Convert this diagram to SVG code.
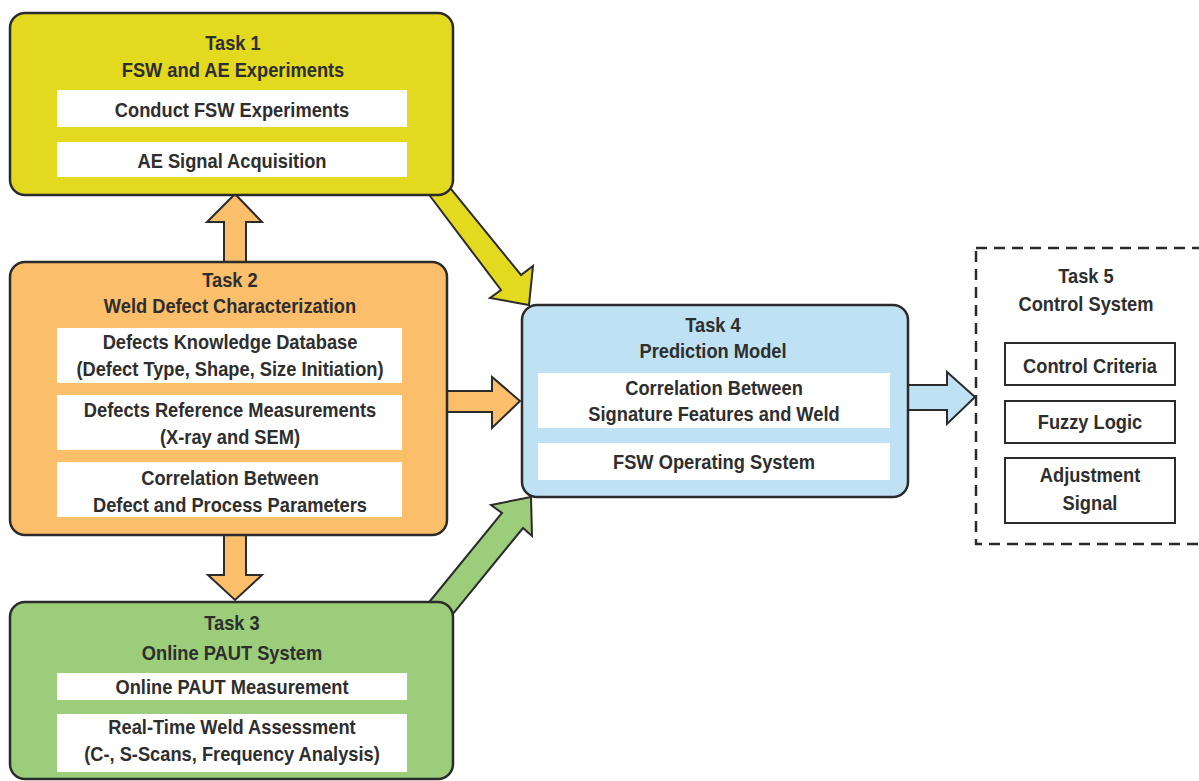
<svg xmlns="http://www.w3.org/2000/svg" width="1199" height="781" viewBox="0 0 1199 781">
<style>
.box{stroke:#2b2b2b;stroke-width:2.5}
.t1{fill:#e3d91f}
.t2{fill:#fbbf6c}
.t3{fill:#9ccd7b}
.t4{fill:#bee2f4}
.in{fill:#ffffff}
.in5{fill:#ffffff;stroke:#2b2b2b;stroke-width:2}
.arr{stroke:#2b2b2b;stroke-width:2;stroke-linejoin:miter}
text{font-family:"Liberation Sans",Arial,sans-serif;font-weight:bold;font-size:21px;fill:#2e2e2e;text-anchor:middle}
</style>
<g id="connectors">
<polygon class="arr" fill="#e3d91f" points="424,188 501,290 490,298 529,305 533,266 521,275 447,184"/>
<polygon class="arr" fill="#9ccd7b" points="426,606 502,513 491,505 531,497 532,536 523,528 448,620"/>
<polygon class="arr" fill="#fbbf6c" points="224,264 224,222 207,222 235,194 262,222 246,222 246,264"/>
<polygon class="arr" fill="#fbbf6c" points="224,533 224,575 208,575 235,600 262,575 246,575 246,533"/>
<polygon class="arr" fill="#fbbf6c" points="445,391 492,391 492,377 520,401 492,428 492,412 445,412"/>
<polygon class="arr" fill="#bee2f4" points="906,385 947,385 947,372 975,397 947,424 947,410 906,410"/>
</g>
<g id="task1">
<rect class="box t1" x="10" y="13" width="443" height="182" rx="15"/>
<rect class="in" x="57" y="90" width="350" height="37"/>
<rect class="in" x="57" y="142" width="350" height="35"/>
<text transform="translate(233,0) scale(0.87,1)" x="0" y="50">Task 1</text>
<text transform="translate(233,0) scale(0.87,1)" x="0" y="77">FSW and AE Experiments</text>
<text transform="translate(232,0) scale(0.87,1)" x="0" y="117">Conduct FSW Experiments</text>
<text transform="translate(232,0) scale(0.87,1)" x="0" y="168">AE Signal Acquisition</text>
</g>
<g id="task2">
<rect class="box t2" x="10" y="262" width="437" height="273" rx="15"/>
<rect class="in" x="57" y="328" width="345" height="55"/>
<rect class="in" x="57" y="395" width="345" height="55"/>
<rect class="in" x="57" y="462" width="345" height="55"/>
<text transform="translate(230,0) scale(0.87,1)" x="0" y="287">Task 2</text>
<text transform="translate(230,0) scale(0.87,1)" x="0" y="313">Weld Defect Characterization</text>
<text transform="translate(230,0) scale(0.87,1)" x="0" y="349">Defects Knowledge Database</text>
<text transform="translate(230,0) scale(0.87,1)" x="0" y="376">(Defect Type, Shape, Size Initiation)</text>
<text transform="translate(230,0) scale(0.87,1)" x="0" y="417">Defects Reference Measurements</text>
<text transform="translate(230,0) scale(0.87,1)" x="0" y="444">(X-ray and SEM)</text>
<text transform="translate(230,0) scale(0.87,1)" x="0" y="485">Correlation Between</text>
<text transform="translate(230,0) scale(0.87,1)" x="0" y="512">Defect and Process Parameters</text>
</g>
<g id="task3">
<rect class="box t3" x="10" y="602" width="443" height="177" rx="15"/>
<rect class="in" x="57" y="673" width="350" height="27"/>
<rect class="in" x="57" y="714" width="350" height="58"/>
<text transform="translate(232,0) scale(0.87,1)" x="0" y="630">Task 3</text>
<text transform="translate(232,0) scale(0.87,1)" x="0" y="660">Online PAUT System</text>
<text transform="translate(232,0) scale(0.87,1)" x="0" y="694">Online PAUT Measurement</text>
<text transform="translate(232,0) scale(0.87,1)" x="0" y="734">Real-Time Weld Assessment</text>
<text transform="translate(232,0) scale(0.87,1)" x="0" y="761">(C-, S-Scans, Frequency Analysis)</text>
</g>
<g id="task4">
<rect class="box t4" x="522" y="305" width="386" height="192" rx="15"/>
<rect class="in" x="538" y="373" width="352" height="55"/>
<rect class="in" x="538" y="443" width="352" height="37"/>
<text transform="translate(713,0) scale(0.87,1)" x="0" y="332">Task 4</text>
<text transform="translate(713,0) scale(0.87,1)" x="0" y="358">Prediction Model</text>
<text transform="translate(714,0) scale(0.87,1)" x="0" y="395">Correlation Between</text>
<text transform="translate(714,0) scale(0.87,1)" x="0" y="421">Signature Features and Weld</text>
<text transform="translate(714,0) scale(0.87,1)" x="0" y="469">FSW Operating System</text>
</g>
<g id="task5">
<rect x="976" y="248" width="260" height="296" fill="none" stroke="#2b2b2b" stroke-width="2.5" stroke-dasharray="11,7"/>
<rect class="in5" x="1005" y="343" width="170" height="42"/>
<rect class="in5" x="1005" y="401" width="170" height="42"/>
<rect class="in5" x="1005" y="458" width="170" height="65"/>
<text transform="translate(1086,0) scale(0.87,1)" x="0" y="283">Task 5</text>
<text transform="translate(1086,0) scale(0.87,1)" x="0" y="311">Control System</text>
<text transform="translate(1090,0) scale(0.87,1)" x="0" y="373">Control Criteria</text>
<text transform="translate(1090,0) scale(0.87,1)" x="0" y="429">Fuzzy Logic</text>
<text transform="translate(1090,0) scale(0.87,1)" x="0" y="482">Adjustment</text>
<text transform="translate(1090,0) scale(0.87,1)" x="0" y="510">Signal</text>
</g>
</svg>
